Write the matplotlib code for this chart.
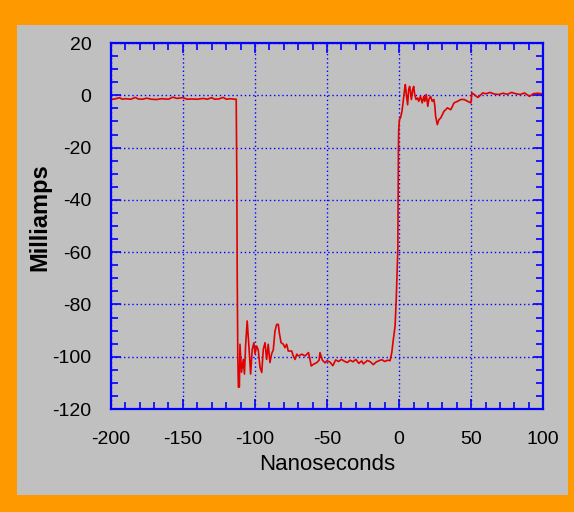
import numpy as np
import matplotlib
matplotlib.use('Agg')
import matplotlib.pyplot as plt
from matplotlib.patches import Rectangle
from matplotlib.ticker import MultipleLocator

plt.rcParams['font.family'] = ['Liberation Sans', 'DejaVu Sans']
plt.rcParams['axes.unicode_minus'] = False

# baseline before the step (ns, mA)
t_base = [-200, -197, -194, -192, -190, -186, -183, -181, -178, -175, -172, -168, -165,
          -160, -157, -154, -150, -147, -144, -140, -136, -133, -130, -128, -125, -122,
          -120, -117, -114, -113]
i_base = [-1.5, -1.4, -0.9, -1.5, -1.3, -1.5, -0.8, -1.4, -1.5, -1.1, -1.5, -1.6, -1.3,
          -1.5, -0.7, -1.2, -0.9, -1.5, -1.4, -1.5, -1.2, -1.5, -0.9, -1.5, -1.4, -0.8,
          -1.5, -1.3, -1.5, -1.5]

# falling edge and ringing
t_fall = [-112.6, -112.3, -111.9, -111.5, -110.8, -110.4, -109.3, -108.1, -107.3, -106.5,
          -105.4, -104.2, -103.0, -101.9, -100.7, -100.0, -98.8, -97.7, -96.5, -95.3,
          -94.2, -93.0, -91.9, -90.8, -89.6, -88.4, -87.3, -86.1, -84.9, -83.8, -83.1,
          -81.9, -80.3, -79.2, -78.0, -76.9, -74.5, -73.4, -72.2, -71.0, -69.9, -67.5,
          -65.3, -62.9, -61.8, -61.0, -59.5, -57.1, -55.5, -54.9, -53.2, -51.4]
i_fall = [-30, -69, -100, -111.6, -111.6, -95.2, -105.9, -101, -106.6, -95.9,
          -86.3, -95.9, -106.6, -97.1, -94.6, -98.8, -95.9, -97.4, -104, -106,
          -97.1, -94.6, -101, -95.2, -102.2, -98.8, -97.4, -90.1, -87.6, -87.6, -90.8,
          -94.6, -95.2, -96.5, -95.2, -97.8, -97.8, -99.7, -101, -99, -99.7, -99,
          -99.7, -98.4, -101, -103.5, -102.9, -102.2, -101.3, -98.4, -101.3, -102.3]

# low plateau
t_low = [-50, -48, -46, -44, -42, -40, -38, -36, -34, -32, -30, -28, -26, -24.8, -22,
         -20, -17.9, -16, -14, -12, -10, -8, -6.3]
i_low = [-101.5, -102.0, -103.4, -101.2, -101.8, -101.0, -101.7, -102.2, -101.3, -101.9,
         -101.0, -102.5, -101.6, -102.7, -101.4, -101.9, -103.0, -102.0, -101.5, -101.1,
         -101.8, -101.3, -101.5]

# rising edge and recovery
t_rise = [-5.1, -4.0, -2.8, -2.0, -0.9, -0.5, -0.3, 0.2, 0.9, 2.0, 3.1, 3.8, 4.3, 5.0, 5.9,
          6.6, 7.3, 7.8, 8.5, 9.4, 10.1, 10.8, 11.8, 12.9, 13.6, 14.8, 16.0, 17.1, 17.8,
          18.8, 19.9, 20.6, 21.8, 23.0, 24.1, 24.8, 25.3, 26.0, 26.5, 27.6, 28.8, 30.0,
          31.1, 32.3, 33.5, 35.8, 37.0, 38.1, 40.5, 42.8, 45.1, 47.5, 49.8, 50.5, 52.1,
          54.5, 55.6, 57.9, 60.3, 63, 66, 69, 72, 75, 78, 81, 84, 87, 90.4, 93, 96, 100]
i_rise = [-98.4, -93.3, -88.3, -78.0, -59.0, -21.0, -13.5, -9.3, -8.7, -6.1, -1.0, 2.2, 4.1,
          0.3, -3.6, 2.2, 3.4, 1.5, -1.6, 2.2, 3.4, 0.3, -1.6, -1.0, -2.3, -0.4, -2.9,
          -0.4, -2.3, 0.3, -4.2, -1.6, -0.4, -2.3, -1.6, -4.2, -8.0, -9.9, -11.2, -9.3,
          -8.7, -7.4, -6.1, -5.5, -4.8, -5.5, -4.2, -2.9, -2.3, -1.6, -1.6, -2.3, -2.9,
          0.9, 0.3, -0.8, -0.4, 0.9, 0.6, 1.1, 0.5, 0.3, 0.8, 0.4, 1.1, 0.6, 0.3, 0.9,
          -0.4, 0.6, 0.8, 0.5]

t = t_base + t_fall + t_low + t_rise
i = i_base + i_fall + i_low + i_rise

fig = plt.figure(figsize=(5.74, 5.12), dpi=100, facecolor='#FF9900')
fig.patches.append(Rectangle((0.0296, 0.0332), 0.96, 0.918, transform=fig.transFigure,
                             facecolor='#C0C0C0', edgecolor='none', zorder=-1))

ax = fig.add_axes([0.193, 0.201, 0.7535, 0.715])
ax.set_facecolor('#C0C0C0')
ax.plot(t, i, color='#E00000', linewidth=1.2)

ax.set_xlim(-200, 100)
ax.set_ylim(-120, 20)
ax.xaxis.set_major_locator(MultipleLocator(50))
ax.xaxis.set_minor_locator(MultipleLocator(10))
ax.yaxis.set_major_locator(MultipleLocator(20))
ax.yaxis.set_minor_locator(MultipleLocator(5))

ax.grid(True, which='major', color='#0000FF', linestyle=(0, (1, 2)), linewidth=1)
for s in ax.spines.values():
    s.set_color('#0000FF')
    s.set_linewidth(1.6)
ax.tick_params(which='both', direction='in', top=True, right=True, color='#0000FF')
ax.tick_params(which='major', length=7, width=1.2)
ax.tick_params(which='minor', length=5, width=1.2)
ax.tick_params(axis='x', which='major', labelsize=14, pad=16)
ax.tick_params(axis='y', which='major', labelsize=14, pad=14)

ax.set_xlabel('Nanoseconds', fontsize=16, va='center')
ax.xaxis.set_label_coords(0.5, -0.15)
ax.set_ylabel('Milliamps', fontsize=17, fontweight='bold', va='center')
ax.yaxis.set_label_coords(-0.163, 0.525)

fig.savefig('out.png', dpi=100, facecolor=fig.get_facecolor())
